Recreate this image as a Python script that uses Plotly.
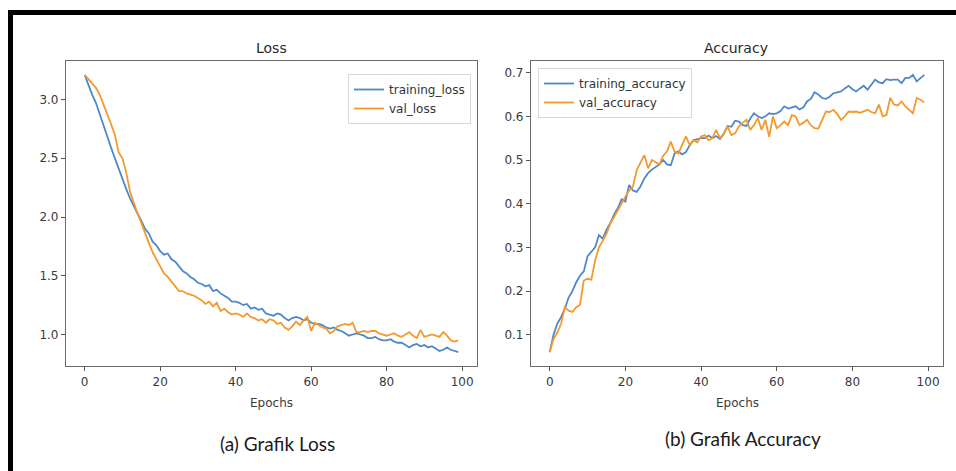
import plotly.graph_objects as go

W, H = 956, 471

epochs = list(range(100))

training_loss = [
    3.21, 3.12, 3.04, 2.97, 2.87, 2.77, 2.68, 2.59, 2.50, 2.41,
    2.33, 2.24, 2.16, 2.09, 2.03, 1.97, 1.90, 1.86, 1.79, 1.76,
    1.71, 1.68, 1.69, 1.64, 1.62, 1.58, 1.54, 1.52, 1.49, 1.47,
    1.44, 1.43, 1.41, 1.42, 1.37, 1.38, 1.35, 1.33, 1.31, 1.28,
    1.28, 1.27, 1.25, 1.26, 1.22, 1.23, 1.21, 1.22, 1.18, 1.17,
    1.16, 1.18, 1.17, 1.14, 1.12, 1.14, 1.15, 1.14, 1.12, 1.13,
    1.10, 1.09, 1.09, 1.08, 1.06, 1.05, 1.06, 1.04, 1.03, 1.01,
    0.99, 1.00, 1.01, 1.00, 0.99, 0.97, 0.97, 0.98, 0.96, 0.95,
    0.95, 0.96, 0.94, 0.93, 0.93, 0.91, 0.89, 0.91, 0.92, 0.90,
    0.91, 0.89, 0.90, 0.88, 0.86, 0.87, 0.89, 0.87, 0.86, 0.85,
]

val_loss = [
    3.21, 3.17, 3.13, 3.10, 3.04, 2.96, 2.88, 2.79, 2.70, 2.55,
    2.50, 2.38, 2.22, 2.12, 2.03, 1.95, 1.86, 1.78, 1.70, 1.64,
    1.58, 1.52, 1.49, 1.45, 1.42, 1.37, 1.37, 1.35, 1.34, 1.33,
    1.31, 1.29, 1.26, 1.28, 1.24, 1.27, 1.20, 1.22, 1.19, 1.17,
    1.18, 1.17, 1.15, 1.18, 1.15, 1.14, 1.12, 1.13, 1.10, 1.13,
    1.12, 1.09, 1.10, 1.06, 1.04, 1.07, 1.11, 1.08, 1.12, 1.15,
    1.03, 1.10, 1.08, 1.06, 1.05, 1.01, 1.03, 1.07, 1.08, 1.09,
    1.08, 1.10, 1.02, 1.02, 1.03, 1.02, 1.03, 1.03, 1.01, 1.00,
    0.99, 1.00, 1.01, 0.99, 0.98, 1.00, 1.02, 0.99, 0.97, 1.04,
    0.98, 0.99, 1.00, 0.99, 0.98, 1.02, 0.99, 0.95, 0.94, 0.95,
]

training_accuracy = [
    0.060, 0.100, 0.125, 0.140, 0.160, 0.185, 0.200, 0.220, 0.235, 0.245,
    0.280, 0.290, 0.300, 0.328, 0.320, 0.340, 0.355, 0.375, 0.390, 0.410,
    0.405, 0.443, 0.430, 0.427, 0.440, 0.458, 0.470, 0.478, 0.485, 0.490,
    0.500, 0.490, 0.488, 0.515, 0.520, 0.513, 0.518, 0.534, 0.545, 0.547,
    0.550, 0.550, 0.556, 0.550, 0.555, 0.548, 0.560, 0.578, 0.576, 0.590,
    0.588, 0.580, 0.578, 0.595, 0.607, 0.600, 0.596, 0.600, 0.607, 0.605,
    0.607, 0.612, 0.623, 0.618, 0.620, 0.623, 0.616, 0.620, 0.634, 0.640,
    0.655, 0.650, 0.642, 0.640, 0.645, 0.653, 0.655, 0.657, 0.664, 0.670,
    0.662, 0.657, 0.664, 0.670, 0.661, 0.672, 0.684, 0.678, 0.676, 0.685,
    0.683, 0.684, 0.684, 0.676, 0.688, 0.688, 0.695, 0.680, 0.688, 0.695,
]

val_accuracy = [
    0.060, 0.090, 0.105, 0.125, 0.163, 0.155, 0.152, 0.163, 0.168, 0.224,
    0.228, 0.226, 0.270, 0.300, 0.315, 0.331, 0.354, 0.370, 0.385, 0.400,
    0.416, 0.430, 0.439, 0.477, 0.495, 0.511, 0.481, 0.500, 0.495, 0.490,
    0.510, 0.520, 0.542, 0.519, 0.515, 0.535, 0.554, 0.534, 0.546, 0.540,
    0.554, 0.557, 0.545, 0.550, 0.569, 0.550, 0.560, 0.577, 0.557, 0.561,
    0.577, 0.585, 0.592, 0.569, 0.580, 0.596, 0.569, 0.592, 0.553, 0.600,
    0.573, 0.580, 0.588, 0.580, 0.603, 0.600, 0.580, 0.585, 0.592, 0.580,
    0.573, 0.572, 0.590, 0.611, 0.610, 0.615, 0.605, 0.592, 0.600, 0.611,
    0.610, 0.611, 0.608, 0.612, 0.615, 0.610, 0.607, 0.627, 0.600, 0.603,
    0.642, 0.627, 0.625, 0.634, 0.623, 0.615, 0.607, 0.642, 0.638, 0.632,
]

loss_yticks = [1.0, 1.5, 2.0, 2.5, 3.0]
acc_yticks = [0.1, 0.2, 0.3, 0.4, 0.5, 0.6, 0.7]
x_ticks = [0, 20, 40, 60, 80, 100]

BLUE = "#4f88c6"
ORANGE = "#f29a2e"
TICK_FONT = dict(family="DejaVu Sans", size=12, color="#3a3a3a")


def mpl_range(*series):
    lo = min(min(s) for s in series)
    hi = max(max(s) for s in series)
    pad = (hi - lo) * 0.05
    return [lo - pad, hi + pad]


fig = go.Figure()
fig.add_trace(go.Scatter(x=epochs, y=training_loss, mode="lines", name="training_loss",
                         line=dict(color=BLUE, width=1.8), xaxis="x", yaxis="y", legend="legend"))
fig.add_trace(go.Scatter(x=epochs, y=val_loss, mode="lines", name="val_loss",
                         line=dict(color=ORANGE, width=1.8), xaxis="x", yaxis="y", legend="legend"))
fig.add_trace(go.Scatter(x=epochs, y=training_accuracy, mode="lines", name="training_accuracy",
                         line=dict(color=BLUE, width=1.8), xaxis="x2", yaxis="y2", legend="legend2"))
fig.add_trace(go.Scatter(x=epochs, y=val_accuracy, mode="lines", name="val_accuracy",
                         line=dict(color=ORANGE, width=1.8), xaxis="x2", yaxis="y2", legend="legend2"))

ydom = [1 - 366 / H, 1 - 61 / H]
axis_common = dict(showgrid=False, zeroline=False, showline=True, linecolor="#6a6a6a",
                   linewidth=1.2, mirror=True, ticks="outside", ticklen=4, tickwidth=1,
                   tickcolor="#555", tickfont=TICK_FONT)
xr = [epochs[0] - 0.05 * (epochs[-1] - epochs[0]), epochs[-1] + 0.05 * (epochs[-1] - epochs[0])]

fig.update_layout(
    width=W, height=H,
    margin=dict(l=0, r=0, t=0, b=0),
    paper_bgcolor="white", plot_bgcolor="white",
    hovermode=False,
    xaxis=dict(domain=[66 / W, 477 / W], range=xr, tickvals=x_ticks, anchor="y", **axis_common),
    yaxis=dict(domain=ydom, range=mpl_range(training_loss, val_loss), tickvals=loss_yticks,
               tickformat=".1f", anchor="x", **axis_common),
    xaxis2=dict(domain=[531 / W, 943 / W], range=xr, tickvals=x_ticks, anchor="y2", **axis_common),
    yaxis2=dict(domain=ydom, range=mpl_range(training_accuracy, val_accuracy), tickvals=acc_yticks,
                tickformat=".1f", anchor="x2", **axis_common),
    legend=dict(x=471 / W, y=1 - 74 / H, xanchor="right", yanchor="top",
                bgcolor="rgba(255,255,255,0.9)", bordercolor="#d8d8d8", borderwidth=1,
                font=dict(family="DejaVu Sans", size=12, color="#333"), tracegroupgap=0,
                itemwidth=30),
    legend2=dict(x=538 / W, y=1 - 68 / H, xanchor="left", yanchor="top",
                 bgcolor="rgba(255,255,255,0.9)", bordercolor="#d8d8d8", borderwidth=1,
                 font=dict(family="DejaVu Sans", size=12, color="#333"), tracegroupgap=0,
                 itemwidth=30),
    showlegend=True,
)

annotations = [
    dict(text="Loss", x=271 / W, y=1 - 48 / H, font=dict(family="DejaVu Sans", size=14, color="#2a2a2a")),
    dict(text="Accuracy", x=736 / W, y=1 - 48 / H, font=dict(family="DejaVu Sans", size=14, color="#2a2a2a")),
    dict(text="Epochs", x=271 / W, y=1 - 403 / H, font=dict(family="DejaVu Sans", size=12, color="#3a3a3a")),
    dict(text="Epochs", x=737 / W, y=1 - 403 / H, font=dict(family="DejaVu Sans", size=12, color="#3a3a3a")),
    dict(text="(a) Grafik Loss", x=277 / W, y=1 - 443 / H, font=dict(family="Lato", size=19, color="#1a1a1a")),
    dict(text="(b) Grafik Accuracy", x=743 / W, y=1 - 438 / H, font=dict(family="Lato", size=19, color="#1a1a1a")),
]
for a in annotations:
    fig.add_annotation(xref="paper", yref="paper", xanchor="center", yanchor="middle",
                       showarrow=False, **a)

# black frame (top and left edges)
fig.add_shape(type="rect", xref="paper", yref="paper", x0=8 / W, x1=1, y0=1 - 15 / H, y1=1 - 10 / H,
              fillcolor="black", line=dict(width=0), layer="above")
fig.add_shape(type="rect", xref="paper", yref="paper", x0=8 / W, x1=13 / W, y0=0, y1=1 - 10 / H,
              fillcolor="black", line=dict(width=0), layer="above")

fig.write_html(
    "out.html",
    config={"displayModeBar": False},
    post_script="document.body.style.margin='0';document.body.style.overflow='hidden';",
)
